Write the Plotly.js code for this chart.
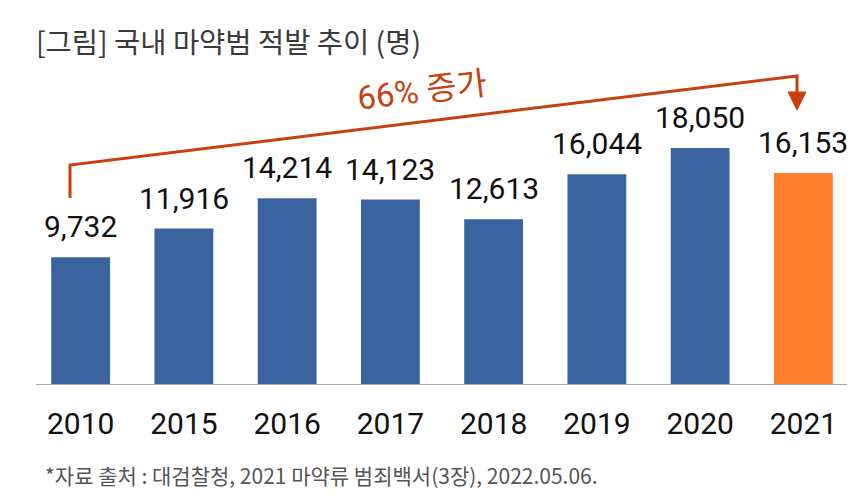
<!DOCTYPE html>
<html>
<head>
<meta charset="utf-8">
<script src="https://cdn.plot.ly/plotly-3.0.1.min.js"></script>
<style>html,body{margin:0;padding:0;background:#fff;}#chart{width:863px;height:498px;}</style>
</head>
<body>
<div id="chart"></div>
<script>
const categories = ['2010', '2015', '2016', '2017', '2018', '2019', '2020', '2021'];
const arrests = [9732, 11916, 14214, 14123, 12613, 16044, 18050, 16153];
const barColors = ['#3A64A0', '#3A64A0', '#3A64A0', '#3A64A0', '#3A64A0', '#3A64A0', '#3A64A0', '#FF7F2F'];
const valueLabels = ['9,732', '11,916', '14,214', '14,123', '12,613', '16,044', '18,050', '16,153'];
const titleText = '[그림] 국내 마약범 적발 추이 (명)';
const growthText = '66% 증가';
const sourceText = '*자료 출처 : 대검찰청, 2021 마약류 범죄백서(3장), 2022.05.06.';

const accent = '#C8400F';
const numFont = 'Roboto, "Noto Sans CJK KR", sans-serif';
const korFont = '"Noto Sans CJK KR", sans-serif';

const trace = {
  type: 'bar',
  x: categories,
  y: arrests,
  marker: {color: barColors},
  width: 0.57,
  hoverinfo: 'skip'
};

const annotations = categories.map((c, i) => ({
  x: i, y: arrests[i], xref: 'x', yref: 'y',
  text: valueLabels[i], showarrow: false,
  xanchor: 'center', yanchor: 'bottom', yshift: 11,
  font: {family: numFont, size: 30, color: '#111111'}
}));

annotations.push({
  x: 3.306, y: 22390, xref: 'x', yref: 'y',
  text: growthText, showarrow: false, textangle: -7,
  xanchor: 'center', yanchor: 'middle',
  font: {family: numFont, size: 33, color: accent}
});

annotations.push({
  x: 0.017, y: -0.276, xref: 'paper', yref: 'paper',
  text: sourceText, showarrow: false,
  xanchor: 'left', yanchor: 'middle',
  font: {family: korFont, size: 21, color: '#555555'}
});

const shapes = [
  {type: 'line', xref: 'x', yref: 'y', x0: -0.432, x1: 7.42, y0: 0, y1: 0,
   line: {color: '#A6A6A6', width: 2}},
  {type: 'path', xref: 'x', yref: 'y',
   path: 'M -0.103 14242 L -0.103 16756 L 6.938 23534 L 6.938 22316',
   line: {color: accent, width: 3}},
  {type: 'path', xref: 'x', yref: 'y',
   path: 'M 6.851 22316 L 7.025 22316 L 6.938 20944 Z',
   fillcolor: accent, line: {color: accent, width: 1}}
];

const layout = {
  width: 863, height: 498,
  margin: {l: 29, r: 8, t: 60, b: 113},
  paper_bgcolor: '#ffffff', plot_bgcolor: '#ffffff',
  showlegend: false,
  title: {
    text: titleText, xref: 'container', yref: 'container',
    x: 0.0417, xanchor: 'left', y: 0.9137, yanchor: 'middle',
    font: {family: korFont, size: 28.5, color: '#3A3A3A'}
  },
  xaxis: {
    type: 'category', range: [-0.5, 7.5],
    showgrid: false, zeroline: false, showline: false, ticks: '',
    tickfont: {family: numFont, size: 30, color: '#111111'},
    ticklabelstandoff: 18
  },
  yaxis: {
    range: [0, 24750], visible: false, showgrid: false, zeroline: false
  },
  annotations: annotations,
  shapes: shapes
};

Plotly.newPlot('chart', [trace], layout, {displayModeBar: false, staticPlot: true});
</script>
</body>
</html>
